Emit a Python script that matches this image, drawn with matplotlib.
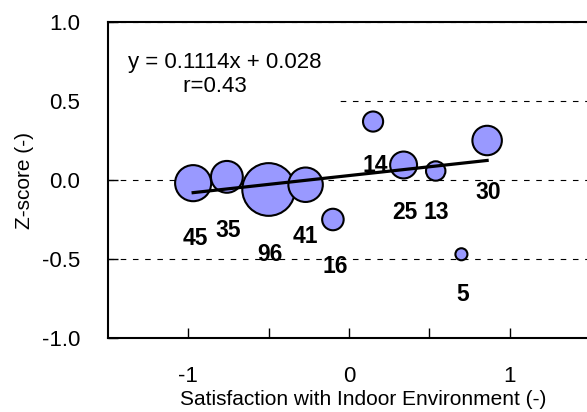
import matplotlib
matplotlib.use("Agg")
import matplotlib.pyplot as plt
import numpy as np

plt.rcParams['font.family'] = ['Liberation Sans', 'DejaVu Sans']

# satisfaction (x), z-score (y), number of respondents (n)
satisfaction = [-0.97, -0.76, -0.50, -0.27, -0.10, 0.15, 0.34, 0.54, 0.86, 0.70]
zscore = [-0.02, 0.02, -0.06, -0.03, -0.25, 0.37, 0.095, 0.057, 0.25, -0.47]
counts = [45, 35, 96, 41, 16, 14, 25, 13, 30, 5]
slope, intercept = 0.1114, 0.028
r_value = 0.43

# where each count label sits relative to its bubble (pixels)
label_offsets = [(2, -55), (1, -54), (1, -65), (0, -52), (2, -47),
                 (2, -44), (1, -48), (1, -42), (1, -52), (1, -40)]

fig = plt.figure(figsize=(5.87, 4.12), dpi=100)
ax = fig.add_axes([0.184, 0.1796, 0.821, 0.767])

ax.set_xlim(-1.5, 1.5)
ax.set_ylim(-1.0, 1.0)
ax.set_axisbelow(True)
ax.yaxis.grid(True, linestyle=(0, (5, 6)), color='black', linewidth=0.8)

sizes = np.array(counts) * 15
ax.scatter(satisfaction, zscore, s=sizes, c='#9999ff', edgecolors='black',
           linewidths=1.5, zorder=3)

xs = np.array([min(satisfaction), max(satisfaction)])
ax.plot(xs, slope * xs + intercept, color='black', linewidth=2.3, zorder=4)

for x, y, n, (dx, dy) in zip(satisfaction, zscore, counts, label_offsets):
    ax.annotate(str(n), (x, y), xytext=(dx, dy), textcoords='offset pixels',
                ha='center', va='center', fontsize=16.5, fontweight='bold', zorder=5)

eq_text = 'y = %.4fx + %.3f\n         r=%.2f' % (slope, intercept, r_value)
ax.text(0.0415, 0.835, eq_text, transform=ax.transAxes, ha='left', va='center',
        fontsize=16, multialignment='left', linespacing=1.2, zorder=2,
        bbox=dict(boxstyle='square,pad=0.85', facecolor='white', edgecolor='none'))

ax.set_xticks([-1, 0, 1])
ax.set_xticklabels(['-1', '0', '1'])
ax.set_xticks([-0.5, 0.5], minor=True)
ax.set_yticks([-1.0, -0.5, 0.0, 0.5, 1.0])
ax.set_yticklabels(['-1.0', '-0.5', '0.0', '0.5', '1.0'])
ax.tick_params(axis='both', which='both', direction='in', length=7, width=1,
               labelsize=16, top=False, right=False)
ax.tick_params(axis='x', which='both', pad=20)
ax.tick_params(axis='y', pad=20)

for side in ['left', 'bottom', 'top', 'right']:
    ax.spines[side].set_linewidth(1.5)

ax.set_xlabel('Satisfaction with Indoor Environment (-)', fontsize=15)
ax.xaxis.set_label_coords(0.529, -0.163)
ax.set_ylabel('Z-score (-)', fontsize=15, labelpad=6)

fig.savefig('out.png', dpi=100)
